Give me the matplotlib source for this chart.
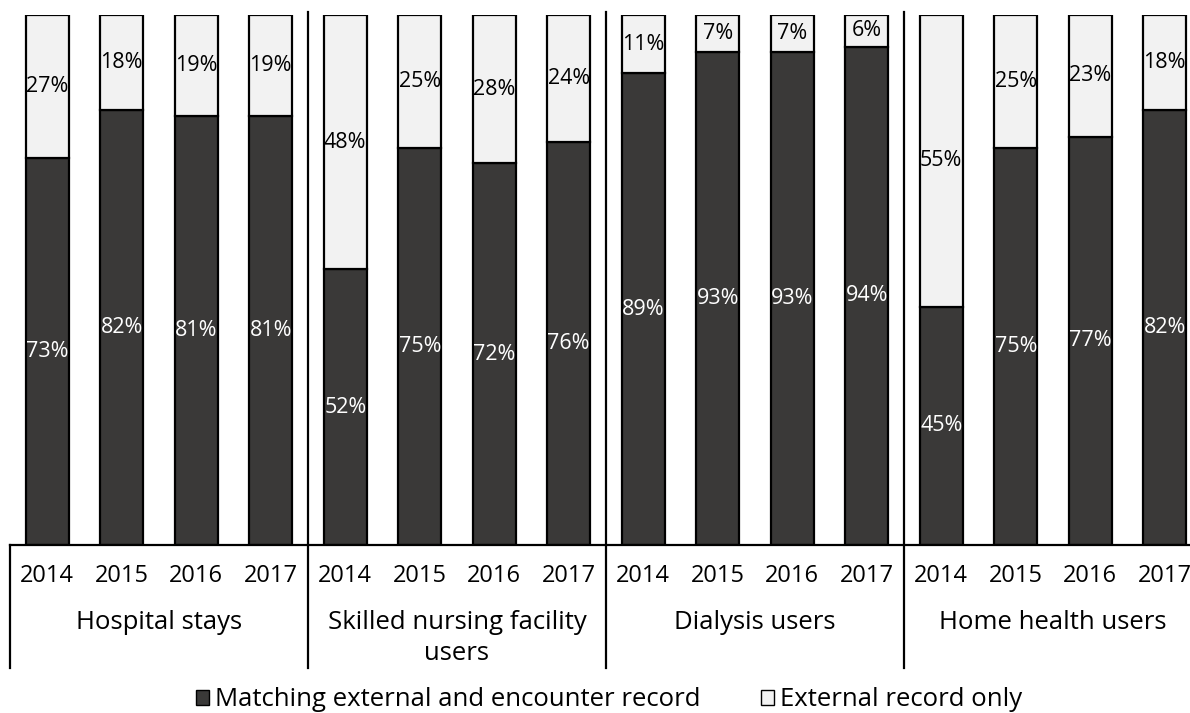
import matplotlib.pyplot as plt
from matplotlib.patches import Patch

# DATA
groups = ["Hospital stays", "Skilled nursing facility\nusers", "Dialysis users", "Home health users"]
years = ["2014", "2015", "2016", "2017"]
matching = [73, 82, 81, 81, 52, 75, 72, 76, 89, 93, 93, 94, 45, 75, 77, 82]
external_only = [27, 18, 19, 19, 48, 25, 28, 24, 11, 7, 7, 6, 55, 25, 23, 18]

dark = "#3a3938"
light = "#f2f2f2"
plt.rcParams["font.family"] = ["Open Sans", "DejaVu Sans"]

W, H = 1190, 713
fig = plt.figure(figsize=(W / 100, H / 100), dpi=100)
ax = fig.add_axes([10 / W, (H - 545) / H, 1192 / W, 530 / H])

x = list(range(len(matching)))
ax.bar(x, matching, width=0.58, color=dark, edgecolor="black", linewidth=1.6)
ax.bar(x, external_only, bottom=matching, width=0.58, color=light, edgecolor="black", linewidth=1.6)

for i in x:
    ax.text(i, matching[i] / 2, f"{matching[i]}%", ha="center", va="center", color="white", fontsize=15.5)
    ax.text(i, matching[i] + external_only[i] / 2, f"{external_only[i]}%", ha="center", va="center",
            color="black", fontsize=15.5)

ax.set_xlim(-0.5, len(x) - 0.5)
ax.set_ylim(0, 100)
ax.set_yticks([])
ax.set_xticks([])
for s in ["top", "left", "right"]:
    ax.spines[s].set_visible(False)
ax.spines["bottom"].set_linewidth(1.6)

trans = ax.get_xaxis_transform()
for i in x:
    ax.text(i, -31 / 530, years[i % 4], ha="center", va="center", fontsize=17, transform=trans)

# group separators
ax.plot([-0.5, -0.5], [0, -0.232], color="black", lw=1.6, transform=trans, clip_on=False)
for g in range(1, len(groups)):
    xs = g * 4 - 0.5
    ax.plot([xs, xs], [1.006, -0.232], color="black", lw=1.6, transform=trans, clip_on=False)

for g, name in enumerate(groups):
    ax.text(g * 4 + 1.5, -65 / 530, name, ha="center", va="top", fontsize=18.5, transform=trans,
            linespacing=1.3)

handles = [Patch(facecolor=dark, edgecolor="black", label="Matching external and encounter record"),
           Patch(facecolor=light, edgecolor="black", label="External record only")]
fig.legend(handles=handles, loc="center", bbox_to_anchor=(609 / W, 13 / H), ncol=2, frameon=False,
           fontsize=18.5, handlelength=0.5, handleheight=0.5, handletextpad=0.23, columnspacing=2.37,
           borderpad=0)

fig.savefig("out.png", dpi=100)
